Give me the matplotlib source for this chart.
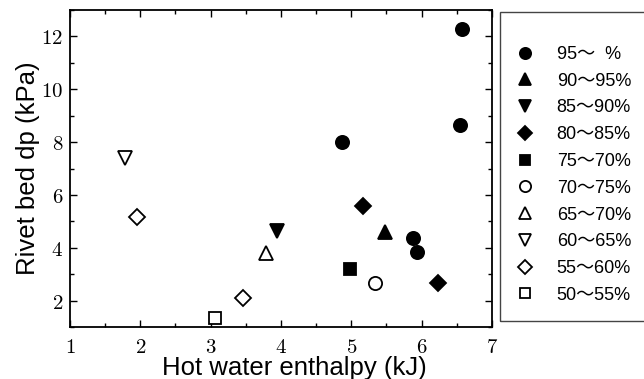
import matplotlib
matplotlib.use("Agg")
import matplotlib.pyplot as plt
from matplotlib.ticker import MultipleLocator
from matplotlib.patches import Rectangle

plt.rcParams['mathtext.fontset'] = 'cm'

labels = ['95〜  %', '90〜95%', '85〜90%', '80〜85%', '75〜70%',
          '70〜75%', '65〜70%', '60〜65%', '55〜60%', '50〜55%']
markers = ['o', '^', 'v', 'D', 's', 'o', '^', 'v', 'D', 's']
filled = [True, True, True, True, True, False, False, False, False, False]

xs = [[6.58, 6.55, 4.87, 5.88, 5.93],
      [5.48],
      [3.94],
      [5.17, 6.23],
      [4.98],
      [5.34],
      [3.79],
      [1.78],
      [1.95, 3.46],
      [3.06]]
ys = [[12.28, 8.65, 8.0, 4.38, 3.85],
      [4.6],
      [4.62],
      [5.58, 2.66],
      [3.19],
      [2.66],
      [3.8],
      [7.4],
      [5.18, 2.1],
      [1.33]]

fig = plt.figure(figsize=(6.44, 3.79), dpi=100)
ax = fig.add_axes([0.1087, 0.137, 0.655, 0.8366])

for i in range(len(labels)):
    ms = 9.5
    if markers[i] == 'D':
        ms = 8.5
    if markers[i] == 's':
        ms = 9
    ax.plot(xs[i], ys[i], linestyle='none', marker=markers[i], markersize=ms,
            markerfacecolor='black' if filled[i] else 'white',
            markeredgecolor='black', markeredgewidth=1.3, label=labels[i])

ax.set_xlim(1, 7)
ax.set_ylim(1, 13)
ax.xaxis.set_minor_locator(MultipleLocator(0.5))
ax.yaxis.set_minor_locator(MultipleLocator(1))
ax.set_xticks(range(1, 8))
ax.set_xticklabels(['$%d$' % v for v in range(1, 8)])
ax.set_yticks(range(2, 13, 2))
ax.set_yticklabels(['$%d$' % v for v in range(2, 13, 2)])
ax.tick_params(which='both', direction='in', top=True, right=True, labelsize=15, width=1)
ax.tick_params(which='major', length=5)
ax.tick_params(which='minor', length=3)
ax.tick_params(axis='x', pad=7)
ax.tick_params(axis='y', pad=5)
for s in ax.spines.values():
    s.set_linewidth(1.3)

ax.set_xlabel('Hot water enthalpy (kJ)', fontsize=18.5, family='Liberation Sans')
ax.xaxis.set_label_coords(0.531, -0.09)
ax.set_ylabel('Rivet bed dp (kPa)', fontsize=18.5, family='Liberation Sans', labelpad=1)

# legend box
fig.patches.append(Rectangle((500 / 644, 1 - 321 / 379), 150 / 644, 309 / 379,
                             transform=fig.transFigure, fill=False,
                             edgecolor='#444444', linewidth=1.0))

leg = fig.legend(loc='upper left', bbox_to_anchor=(511.5 / 644, 1 - 46 / 379),
                 prop={'family': ['Liberation Sans', 'Noto Sans CJK JP'], 'size': 13},
                 frameon=False, labelspacing=0.54, markerscale=0.85,
                 borderpad=0, handletextpad=1.0, borderaxespad=0, handlelength=1.5)

fig.savefig('out.png', dpi=100)
